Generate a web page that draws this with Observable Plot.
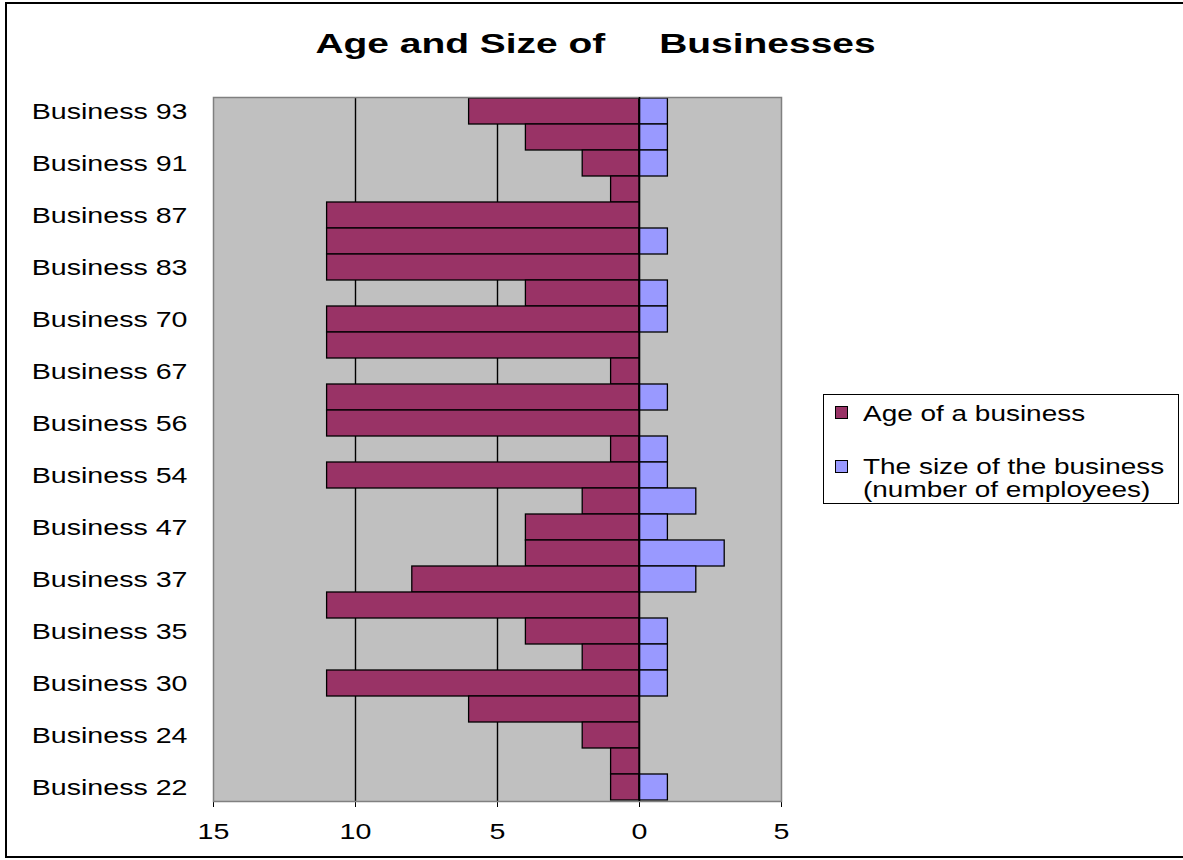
<!DOCTYPE html>
<html>
<head>
<meta charset="utf-8">
<script src="https://cdn.jsdelivr.net/npm/d3@7"></script>
<script src="https://cdn.jsdelivr.net/npm/@observablehq/plot@0.6"></script>
<style>
  html, body { margin: 0; padding: 0; background: #fff; overflow: hidden; }
  #wrap { position: relative; width: 1183px; height: 860px; overflow: hidden; font-family: "Liberation Sans", Arial, sans-serif; }
  #frame { position: absolute; left: 5px; top: 2px; width: 1190px; height: 856px; border: 2px solid #000; box-sizing: border-box; pointer-events: none; }
  #title { position: absolute; left: 0; top: 30px; width: 1191px; text-align: center; font-weight: bold; font-size: 28px; line-height: 28px; white-space: pre; transform: scaleX(1.39); transform-origin: 595.5px 50%; color: #000; }
  #legend { position: absolute; left: 823px; top: 394px; width: 356px; height: 110px; border: 1px solid #000; box-sizing: border-box; background: #fff; }
  .sw { position: absolute; width: 13px; height: 13px; border: 1px solid #000; box-sizing: border-box; }
  .lt { position: absolute; font-size: 22px; line-height: 23px; white-space: pre; transform: scaleX(1.27); transform-origin: 0 50%; color: #000; }
  #chart { position: absolute; left: 0; top: 0; }
</style>
</head>
<body>
<div id="wrap">
  <div id="chart"></div>
  <div id="title"></div>
  <div id="legend"></div>
  <div id="frame"></div>
</div>
<script>
// Categories, top to bottom (only every other label is printed on the axis)
const businessNames = [
  "Business 93", "Business 92", "Business 91", "Business 89", "Business 87",
  "Business 85", "Business 83", "Business 75", "Business 70", "Business 68",
  "Business 67", "Business 60", "Business 56", "Business 55", "Business 54",
  "Business 50", "Business 47", "Business 40", "Business 37", "Business 36",
  "Business 35", "Business 33", "Business 30", "Business 27", "Business 24",
  "Business 23", "Business 22"
];
// Age of a business (years)
const ageValues = [6, 4, 2, 1, 11, 11, 11, 4, 11, 11, 1, 11, 11, 1, 11, 2, 4, 4, 8, 11, 4, 2, 11, 6, 2, 1, 1];
// Size of the business (number of employees)
const sizeValues = [1, 1, 1, 0, 0, 1, 0, 1, 1, 0, 0, 1, 0, 1, 1, 2, 1, 3, 2, 0, 1, 1, 1, 0, 0, 0, 1];
// Axis ticks
const xTicks = [-15, -10, -5, 0, 5];
const gridValues = [-10, -5];
const seriesNames = ["Age of a business", "The size of the business\n(number of employees)"];
const seriesColors = ["#993366", "#9999ff"];
const titleText = "Age and Size of     Businesses";

const labelled = new Set(businessNames.filter((d, i) => i % 2 === 0));
const rows = businessNames.map((name, i) => ({name, age: ageValues[i], size: sizeValues[i]}));

const chart = Plot.plot({
  width: 1183,
  height: 860,
  marginTop: 97,
  marginBottom: 59,
  marginLeft: 213,
  marginRight: 402,
  style: {fontFamily: "Liberation Sans, Arial, sans-serif", fontSize: "22px", color: "#000", background: "transparent"},
  x: {domain: [-15, 5], ticks: xTicks, tickFormat: d => Math.abs(d), tickSize: 6, tickPadding: 16, label: null, line: true},
  y: {domain: businessNames, padding: 0, tickSize: 0, tickPadding: 26, tickFormat: d => labelled.has(d) ? d : "", label: null},
  marks: [
    Plot.frame({fill: "#c0c0c0", stroke: "none"}),
    Plot.ruleX(gridValues, {stroke: "#000", strokeWidth: 1.4}),
    Plot.barX(rows, {y: "name", x1: 0, x2: d => -d.age, fill: seriesColors[0], stroke: "#000", strokeWidth: 1.3, inset: 0}),
    Plot.barX(rows.filter(d => d.size > 0), {y: "name", x1: 0, x2: "size", fill: seriesColors[1], stroke: "#000", strokeWidth: 1.3, inset: 0}),
    Plot.frame({stroke: "#808080", strokeWidth: 1.5}),
    Plot.ruleX([0], {stroke: "#000", strokeWidth: 1.6})
  ]
});
document.getElementById("chart").append(chart);

// stretch axis text horizontally like the original rendering
chart.querySelectorAll("text").forEach(t => {
  const w = t.getComputedTextLength();
  if (w > 0) {
    t.setAttribute("textLength", w * 1.3);
    t.setAttribute("lengthAdjust", "spacingAndGlyphs");
  }
});

document.getElementById("title").textContent = titleText;

const legend = document.getElementById("legend");
const swTops = [11, 65];
const txTops = [7, 60];
seriesNames.forEach((name, i) => {
  const sw = document.createElement("div");
  sw.className = "sw";
  sw.style.left = "11px";
  sw.style.top = swTops[i] + "px";
  sw.style.background = seriesColors[i];
  legend.append(sw);
  const tx = document.createElement("div");
  tx.className = "lt";
  tx.style.left = "39px";
  tx.style.top = txTops[i] + "px";
  tx.textContent = name;
  legend.append(tx);
});
</script>
</body>
</html>
